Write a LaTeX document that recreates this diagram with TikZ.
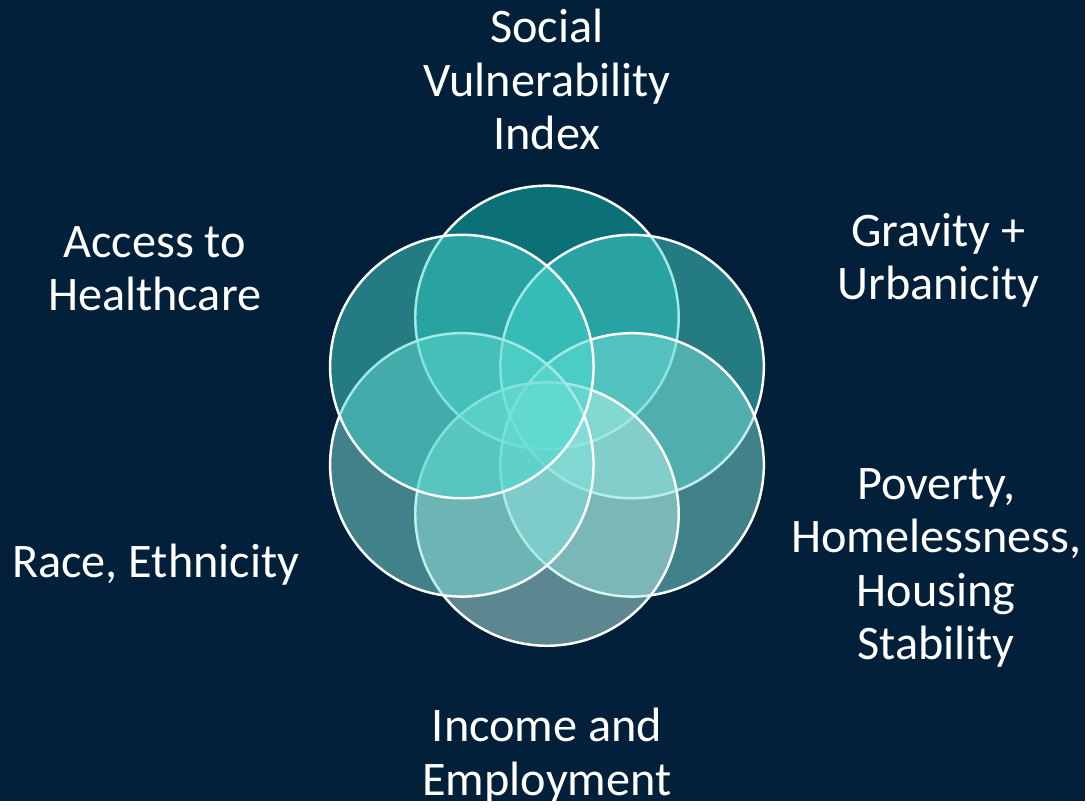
\documentclass[tikz,border=0pt]{standalone}
\usepackage{fontspec}
\setmainfont{Carlito}
\usepackage{tikz}
\definecolor{navy}{HTML}{03203A}
\definecolor{tealA}{HTML}{15C2B5}
\definecolor{tealB}{HTML}{45D6CB}
\definecolor{tealC}{HTML}{7FE2DB}
\definecolor{tealD}{HTML}{B5EEE7}
\tikzset{
  petal/.style={draw=white, line width=1.4pt, fill opacity=0.5},
  lbl/.style={text=white, align=center, font=\fontsize{27.5}{30.5}\selectfont}
}

\begin{document}
\begin{tikzpicture}[x=0.02cm, y=-0.02cm]
          % background
          \fill[navy] (0,0) rectangle (1087,803);
          % six circles, clockwise from the top
          \foreach \ang/\col in {-90/tealA, -30/tealB, 30/tealC, 90/tealD, 150/tealC, 210/tealB}
            \filldraw[petal, fill=\col] (548,416.5) ++(\ang:98.5) circle [radius=2.64cm];
          % labels
          \node[lbl] (svi) at (548,80) {Social\\Vulnerability\\Index};
          \node[lbl] (grav) at (940,261) {Gravity +\\Urbanicity};
          \node[lbl] (pov) at (938,569) {Poverty,\\Homelessness,\\Housing\\Stability};
          \node[lbl] (inc) at (548,757) {Income and\\Employment};
          \node[lbl] (race) at (156,566) {Race, Ethnicity};
          \node[lbl] (acc) at (155,269) {Access to\\Healthcare};
        \end{tikzpicture}
\end{document}
